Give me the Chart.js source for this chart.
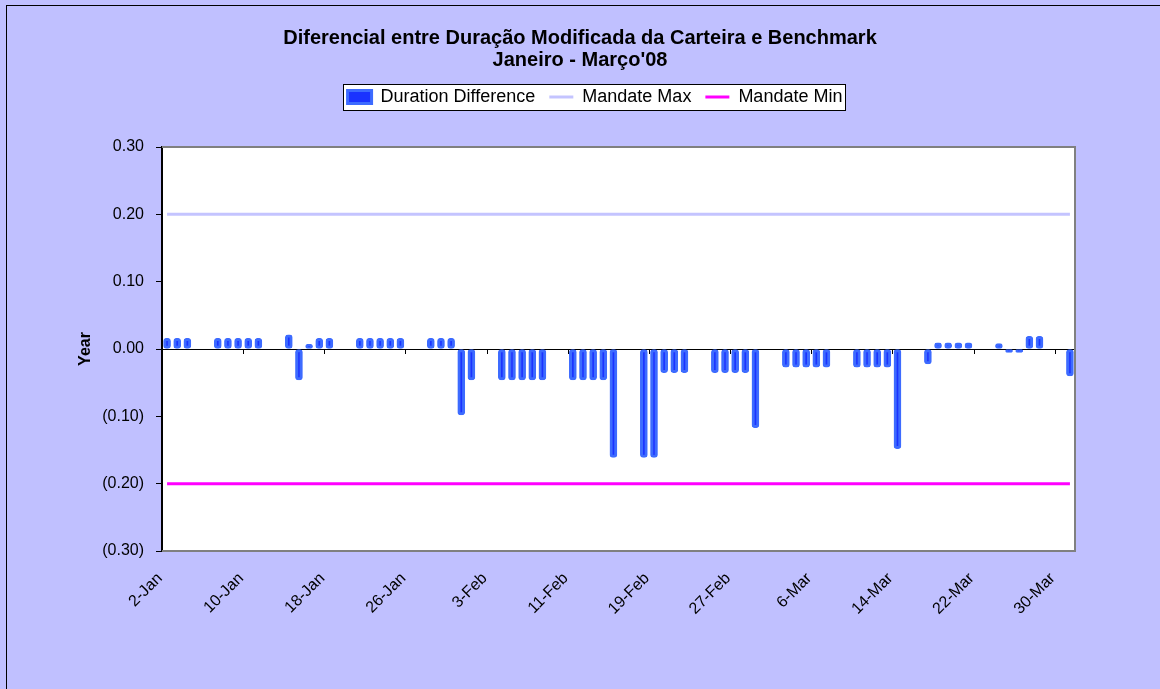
<!DOCTYPE html>
<html><head><meta charset="utf-8">
<script src="https://cdn.jsdelivr.net/npm/chart.js@4.4.0/dist/chart.umd.min.js"></script>
<style>
html,body{margin:0;padding:0;background:#c0c0ff;overflow:hidden;}
#wrap{width:1160px;height:689px;position:relative;}
canvas{display:block;}
</style></head><body>
<div id="wrap"><canvas id="c" width="1160" height="689"></canvas></div>
<script>
// ---- data ----
const titleLines = ['Diferencial entre Duração Modificada da Carteira e Benchmark', "Janeiro - Março'08"];
const seriesNames = ['Duration Difference', 'Mandate Max', 'Mandate Min'];
const yAxisTitle = 'Year';
const axisStartDate = '2008-01-02';
const axisDays = 90;
const tickEveryDays = 8;
const xTickLabels = ['2-Jan','10-Jan','18-Jan','26-Jan','3-Feb','11-Feb','19-Feb','27-Feb','6-Mar','14-Mar','22-Mar','30-Mar'];
const tradingDays = [
  '2008-01-02','2008-01-03','2008-01-04','2008-01-07','2008-01-08','2008-01-09','2008-01-10','2008-01-11',
  '2008-01-14','2008-01-15','2008-01-16','2008-01-17','2008-01-18','2008-01-21','2008-01-22','2008-01-23',
  '2008-01-24','2008-01-25','2008-01-28','2008-01-29','2008-01-30','2008-01-31',
  '2008-02-01','2008-02-04','2008-02-05','2008-02-06','2008-02-07','2008-02-08','2008-02-11','2008-02-12',
  '2008-02-13','2008-02-14','2008-02-15','2008-02-18','2008-02-19','2008-02-20','2008-02-21','2008-02-22',
  '2008-02-25','2008-02-26','2008-02-27','2008-02-28','2008-02-29',
  '2008-03-03','2008-03-04','2008-03-05','2008-03-06','2008-03-07','2008-03-10','2008-03-11','2008-03-12',
  '2008-03-13','2008-03-14','2008-03-17','2008-03-18','2008-03-19','2008-03-20','2008-03-21','2008-03-24',
  '2008-03-25','2008-03-26','2008-03-27','2008-03-28','2008-03-31'
];
const durationDiff = [
  0.016,0.016,0.016, 0.016,0.016,0.016,0.016,0.016,
  0.021,-0.046,0.007,0.016,0.016, 0.016,0.016,0.016,
  0.016,0.016, 0.016,0.016,0.016,-0.098,
  -0.046, -0.046,-0.046,-0.046,-0.046,-0.046, -0.046,-0.046,
  -0.046,-0.046,-0.161, -0.161,-0.161,-0.035,-0.035,-0.035,
  -0.035,-0.035,-0.035,-0.035,-0.117,
  -0.027,-0.027,-0.027,-0.027,-0.027, -0.027,-0.027,-0.027,
  -0.027,-0.148, -0.022,0.009,0.009,0.009,0.009, 0.008,
  -0.005,-0.005,0.019,0.019, -0.040
];
const mandateMax = 0.20;
const mandateMin = -0.20;
const yMin = -0.30, yMax = 0.30, yStep = 0.10;

// ---- helpers ----
const DAY = 86400000;
const t0 = Date.parse(axisStartDate);
const dayPos = d => (Date.parse(d) - t0) / DAY + 0.5;
const fmtY = v => {
  if (Math.abs(v) < 1e-9) return '0.00';
  return v < 0 ? '(' + Math.abs(v).toFixed(2) + ')' : v.toFixed(2);
};
const FONT = '"Liberation Sans", Arial, sans-serif';
Chart.defaults.font.family = FONT;
Chart.defaults.color = '#000';
const LEGEND_SHIFT = 15;

const decor = {
  id: 'decor',
  afterUpdate(chart) {
    const lg = chart.legend;
    if (!lg) return;
    lg.left += LEGEND_SHIFT;
    lg.right += LEGEND_SHIFT;
    (lg.legendHitBoxes || []).forEach(h => { h.left += LEGEND_SHIFT; });
  },
  beforeDraw(chart) {
    const {ctx, chartArea: a} = chart;
    ctx.save();
    ctx.fillStyle = '#c0c0ff';
    ctx.fillRect(0, 0, chart.width, chart.height);
    ctx.strokeStyle = '#000';
    ctx.lineWidth = 1;
    ctx.strokeRect(6.5, 5.5, 1300, 800);
    ctx.fillStyle = '#fff';
    ctx.fillRect(a.left, a.top, a.right - a.left, a.bottom - a.top);
    // legend box
    const hb = chart.legend && chart.legend.legendHitBoxes;
    if (hb && hb.length) {
      let l = Infinity, r = -Infinity, t = Infinity, b = -Infinity;
      hb.forEach(h => { l = Math.min(l, h.left); r = Math.max(r, h.left + h.width); t = Math.min(t, h.top); b = Math.max(b, h.top + h.height); });
      const x0 = Math.round(l - 5) + 0.5, x1 = Math.round(r + 3) + 0.5;
      const y0 = Math.round(t - 4) + 0.5, y1 = Math.round(b + 4) + 0.5;
      ctx.fillStyle = '#fff';
      ctx.fillRect(x0, y0, x1 - x0, y1 - y0);
      ctx.strokeStyle = '#000';
      ctx.strokeRect(x0, y0, x1 - x0, y1 - y0);
    }
    ctx.restore();
  },
  beforeDatasetsDraw(chart) {
    const {ctx, chartArea: a, scales} = chart;
    ctx.save();
    ctx.strokeStyle = '#808080';
    ctx.lineWidth = 2;
    ctx.beginPath();
    ctx.moveTo(a.left, a.top);
    ctx.lineTo(a.right, a.top);
    ctx.lineTo(a.right, a.bottom);
    ctx.lineTo(a.left, a.bottom);
    ctx.stroke();
    // x tick marks on the zero line
    const y0 = scales.y.getPixelForValue(0);
    ctx.strokeStyle = '#000';
    ctx.lineWidth = 1;
    scales.x.ticks.forEach(t => {
      const x = Math.round(scales.x.getPixelForValue(t.value)) + 0.5;
      ctx.beginPath();
      ctx.moveTo(x, y0);
      ctx.lineTo(x, y0 + 5);
      ctx.stroke();
    });
    ctx.restore();
  }
};

new Chart(document.getElementById('c'), {
  type: 'bar',
  data: {
    datasets: [
      {
        label: seriesNames[0],
        xAxisID: 'x', yAxisID: 'y',
        data: tradingDays.map((d, i) => ({x: dayPos(d), y: durationDiff[i]})),
        backgroundColor: '#1a33ff',
        borderColor: '#3d6bff',
        borderWidth: 3,
        borderRadius: 3,
        borderSkipped: false,
        barThickness: 7,
        pointStyle: 'rect'
      },
      {
        type: 'line',
        label: seriesNames[1],
        xAxisID: 'x', yAxisID: 'y',
        data: tradingDays.map(d => ({x: dayPos(d), y: mandateMax})),
        borderColor: '#c4c4ff',
        backgroundColor: '#c4c4ff',
        borderWidth: 3,
        pointRadius: 0,
        pointStyle: 'line'
      },
      {
        type: 'line',
        label: seriesNames[2],
        xAxisID: 'x', yAxisID: 'y',
        data: tradingDays.map(d => ({x: dayPos(d), y: mandateMin})),
        borderColor: '#ff00ff',
        backgroundColor: '#ff00ff',
        borderWidth: 3,
        pointRadius: 0,
        pointStyle: 'line'
      }
    ]
  },
  options: {
    responsive: false,
    devicePixelRatio: 1,
    animation: false,
    layout: {padding: 0},
    plugins: {
      title: {
        display: true,
        text: titleLines,
        color: '#000',
        font: {size: 20, weight: 'bold', lineHeight: 1.1},
        padding: {top: 27, bottom: 3}
      },
      legend: {
        display: true,
        position: 'top',
        labels: {
          usePointStyle: true,
          pointStyleWidth: 24,
          boxHeight: 13,
          color: '#000',
          font: {size: 18},
          padding: 14
        }
      },
      tooltip: {enabled: false}
    },
    scales: {
      x: {
        type: 'linear',
        position: 'bottom',
        offset: false,
        min: 0,
        max: axisDays,
        afterBuildTicks: s => { s.ticks = xTickLabels.map((_, i) => ({value: i * tickEveryDays})); },
        ticks: {
          callback: v => xTickLabels[Math.round(v / tickEveryDays)],
          autoSkip: false,
          maxRotation: 45,
          minRotation: 45,
          font: {size: 16},
          color: '#000',
          padding: 10,
          labelOffset: -2
        },
        grid: {display: false, offset: false},
        border: {display: false},
        afterFit: s => { s.height = 138; }
      },
      xTop: {
        type: 'linear',
        position: 'top',
        display: true,
        offset: false,
        grid: {display: false},
        border: {display: false},
        ticks: {display: false},
        afterFit: s => { s.height = 31; }
      },
      yRight: {
        type: 'linear',
        position: 'right',
        display: true,
        grid: {display: false},
        border: {display: false},
        ticks: {display: false},
        afterFit: s => { s.width = 85; }
      },
      y: {
        type: 'linear',
        position: 'left',
        min: yMin,
        max: yMax,
        ticks: {stepSize: yStep, callback: v => fmtY(v), font: {size: 16}, color: '#000', padding: 12},
        grid: {
          drawOnChartArea: true,
          color: c => (c.tick && Math.abs(c.tick.value) < 1e-9) ? '#000' : 'rgba(0,0,0,0)',
          tickColor: '#000',
          tickLength: 6,
          lineWidth: 1
        },
        border: {display: true, color: '#000', width: 2},
        title: {display: true, text: yAxisTitle, font: {size: 16, weight: 'bold'}, color: '#000', padding: {top: 76, bottom: 0}},
        afterFit: s => { s.width = 162; }
      }
    }
  },
  plugins: [decor]
});
</script>
</body></html>
